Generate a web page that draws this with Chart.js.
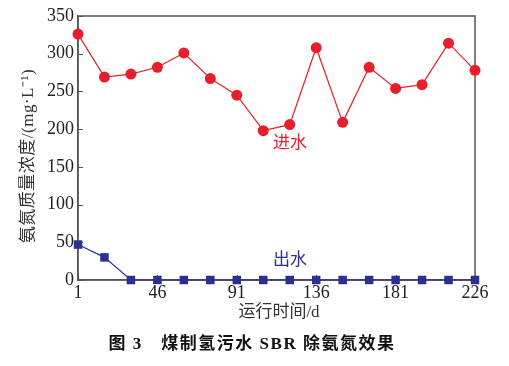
<!DOCTYPE html>
<html><head><meta charset="utf-8">
<script src="https://cdn.jsdelivr.net/npm/chart.js@4/dist/chart.umd.min.js"></script>
<style>html,body{margin:0;padding:0;background:#fff}#wrap{width:509px;height:366px}</style>
</head><body><div id="wrap"><canvas id="c" width="509" height="366"></canvas></div>
<script>
const days = [1,16,31,46,61,76,91,106,121,136,151,166,181,196,211,226];
const influent = [326,269,273,282,301,267,245,198,206,308,209,282,254,259,314,278];
const effluent = [47,30,0,0,0,0,0,0,0,0,0,0,0,0,0,0];
const xTicks = [1,46,91,136,181,226];
const yTicks = [0,50,100,150,200,250,300,350];
const xTitle = '运行时间/d';
const yTitle = '氨氮质量浓度/(mg·L⁻¹)';
const caption = '图 3　煤制氢污水 SBR 除氨氮效果';
const labelIn = '进水', labelOut = '出水';

const RED = '#e5202b', BLUE = '#2b2f8f', AXIS = '#555';
const serif = '"Liberation Serif","Noto Sans CJK SC",serif';

const deco = {
  id: 'deco',
  beforeDatasetsDraw(chart) {
    const {ctx, chartArea: a, scales: {x, y}} = chart;
    ctx.save();
    ctx.strokeStyle = AXIS; ctx.lineWidth = 1.5;
    ctx.strokeRect(a.left, a.top, a.right - a.left, a.bottom - a.top);
    ctx.lineWidth = 1;
    ctx.beginPath();
    yTicks.forEach(v => { const py = Math.round(y.getPixelForValue(v)) + 0.5; ctx.moveTo(a.left, py); ctx.lineTo(a.left + 5, py); });
    xTicks.forEach(v => { const px = Math.round(x.getPixelForValue(v)) + 0.5; ctx.moveTo(px, a.bottom); ctx.lineTo(px, a.bottom - 5); });
    ctx.stroke();
    ctx.restore();
  },
  afterDraw(chart) {
    const {ctx} = chart;
    ctx.save();
    ctx.textAlign = 'center'; ctx.textBaseline = 'middle';
    ctx.fillStyle = '#333';
    ctx.font = '17px ' + serif;
    ctx.fillText(xTitle, 279, 313);
    ctx.save();
    ctx.translate(29, 156); ctx.rotate(-Math.PI / 2);
    ctx.letterSpacing = '0.5px';
    ctx.fillText(yTitle, 0, 0);
    ctx.restore();
    ctx.fillStyle = RED;
    ctx.fillText(labelIn, 290, 144);
    ctx.fillStyle = BLUE;
    ctx.fillText(labelOut, 290, 261);
    ctx.fillStyle = '#111'; ctx.font = 'bold 17px ' + serif;
    ctx.letterSpacing = '1.5px';
    ctx.fillText(caption, 252, 345);
    ctx.restore();
  }
};

new Chart(document.getElementById('c'), {
  type: 'line',
  data: {
    datasets: [
      { data: days.map((d, i) => ({x: d, y: influent[i]})), borderColor: RED, backgroundColor: RED,
        borderWidth: 1.2, pointStyle: 'circle', pointRadius: 5.5, pointBorderWidth: 0, clip: false },
      { data: days.map((d, i) => ({x: d, y: effluent[i]})), borderColor: BLUE, backgroundColor: BLUE,
        borderWidth: 1.2, pointStyle: 'rect', pointRadius: 6, pointBorderWidth: 0, clip: false }
    ]
  },
  options: {
    responsive: false, animation: false,
    layout: { padding: { left: 0, right: 34, top: 16, bottom: 56 } },
    plugins: { legend: { display: false }, tooltip: { enabled: false } },
    scales: {
      x: {
        type: 'linear', min: 1, max: 226,
        afterBuildTicks: s => { s.ticks = xTicks.map(v => ({value: v})); },
        afterFit: s => { s.height = 30; },
        grid: { display: false, drawTicks: false },
        border: { display: true, color: AXIS, width: 1.5 },
        ticks: { color: '#222', font: { family: serif, size: 18 }, padding: 2, maxRotation: 0, autoSkip: false }
      },
      y: {
        min: 0, max: 350,
        afterBuildTicks: s => { s.ticks = yTicks.map(v => ({value: v})); },
        afterFit: s => { s.width = 78; },
        grid: { display: false, drawTicks: false },
        border: { display: true, color: AXIS, width: 1.5 },
        ticks: { color: '#222', font: { family: serif, size: 18 }, padding: 4 }
      }
    }
  },
  plugins: [deco]
});
</script></body></html>
